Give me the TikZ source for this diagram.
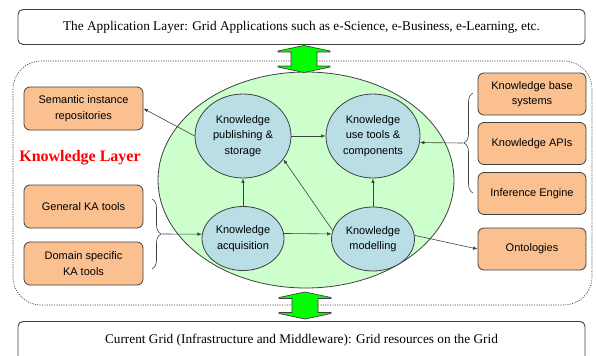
\documentclass[tikz,border=0pt]{standalone}
\usepackage{fontspec}
\setmainfont{Liberation Serif}
\setsansfont{Liberation Sans}
\usetikzlibrary{shapes.geometric,arrows.meta,decorations.pathreplacing}
\definecolor{obox}{HTML}{FAC090}
\definecolor{bell}{HTML}{B9DEE6}
\definecolor{gell}{HTML}{CCFFCC}
\definecolor{lc}{HTML}{404040}
\definecolor{garrow}{HTML}{00FF00}
\begin{document}
\begin{tikzpicture}[x=1pt,y=1pt,
  sfont/.style={font=\sffamily\fontsize{11}{15.5}\selectfont},
  ob/.style={sfont, draw=lc, line width=0.8pt, fill=obox, rounded corners=6pt, align=center, inner sep=1pt},
  leftbox/.style={ob, minimum width=119pt, minimum height=43pt},
  rightbox/.style={ob, minimum width=108pt, minimum height=42pt},
  bell/.style={sfont, ellipse, draw=lc, line width=0.8pt, fill=bell, align=center, inner sep=0pt},
  layerbox/.style={draw=lc, line width=0.9pt, fill=white, rounded corners=5pt, minimum width=567pt, font=\rmfamily\fontsize{13.3}{15}\selectfont},
  arr/.style={draw=lc, line width=0.6pt, -{Latex[length=4.5pt,width=3.5pt]}},
  bracestyle/.style={draw=lc, line width=0.6pt, decorate, decoration={brace, amplitude=9pt}},
  gdarrow/.pic={\filldraw[fill=garrow, draw=lc, line width=0.7pt]
     (0,13.5) -- (26,8) -- (26,7) -- (13,7) -- (13,-7) -- (26,-7) -- (26,-8) -- (0,-13.5)
     -- (-26,-8) -- (-26,-7) -- (-13,-7) -- (-13,7) -- (-26,7) -- (-26,8) -- cycle;}
]
\useasboundingbox (0,0) rectangle (597,-356);

% layer boxes
\node[layerbox, minimum height=35pt] (app) at (301.5,-27)
  {The Application Layer: Grid Applications such as e-Science, e-Business, e-Learning, etc.};
\node[layerbox, minimum height=40pt, anchor=north] (grid) at (301.5,-321)
  {\raisebox{5pt}{Current Grid (Infrastructure and Middleware): Grid resources on the Grid}};

% knowledge layer frame
\draw[draw=lc, line width=0.6pt, dash pattern=on 1.2pt off 1.2pt, rounded corners=28pt]
  (13,-61) rectangle (592,-305);

% big ellipse
\node[ellipse, draw=lc, line width=0.8pt, fill=gell, minimum width=296pt, minimum height=216pt, inner sep=0pt] (kl) at (306,-180) {};

\node[text=red, font=\rmfamily\bfseries\fontsize{16}{18}\selectfont] (kltitle) at (80,-158) {Knowledge Layer};

% inner ellipses
\node[bell, minimum width=96pt, minimum height=84pt] (pub) at (243,-136) {Knowledge\\publishing \&\\storage};
\node[bell, minimum width=94pt, minimum height=84pt] (use) at (373,-136) {Knowledge\\use tools \&\\components};
\node[bell, minimum width=82pt, minimum height=64pt] (acq) at (243,-238.5) {Knowledge\\acquisition};
\node[bell, minimum width=83pt, minimum height=64pt] (mod) at (373,-239) {Knowledge\\modelling};

% left boxes
\node[leftbox] (sem) at (83.5,-108.5) {Semantic instance\\repositories};
\node[leftbox] (gen) at (83.5,-206.5) {General KA tools};
\node[leftbox] (dom) at (83.5,-263.5) {Domain specific\\KA tools};

% right boxes
\node[rightbox] (kbs) at (532,-94) {Knowledge base\\systems};
\node[rightbox] (api) at (532,-143.5) {Knowledge APIs};
\node[rightbox] (inf) at (532,-193.5) {Inference Engine};
\node[rightbox] (ont) at (532,-249) {Ontologies};

% braces
\draw[bracestyle] (473,-193) -- (473,-93);
\coordinate (rb) at (463,-143);
\draw[bracestyle] (152,-199) -- (152,-269);
\coordinate (lb) at (162,-234);

% connectors
\draw[arr] (pub.west) -- (sem.east);
\draw[arr] (acq.north) -- (pub.south);
\draw[arr] (pub.east) -- (use.west);
\draw[arr] (mod.north) -- (use.south);
\draw[arr] (acq.7) -- (mod.173);
\draw[arr] (mod.168) -- (pub.-30);
\draw[arr] (mod.5) -- (ont.west);
\draw[arr] (rb) -- (use.-8.6);
\draw[arr] (lb) -- (acq.174);

% green double arrows
\pic at (304,-59) {gdarrow};
\pic at (305,-305.5) {gdarrow};
\end{tikzpicture}
\end{document}
